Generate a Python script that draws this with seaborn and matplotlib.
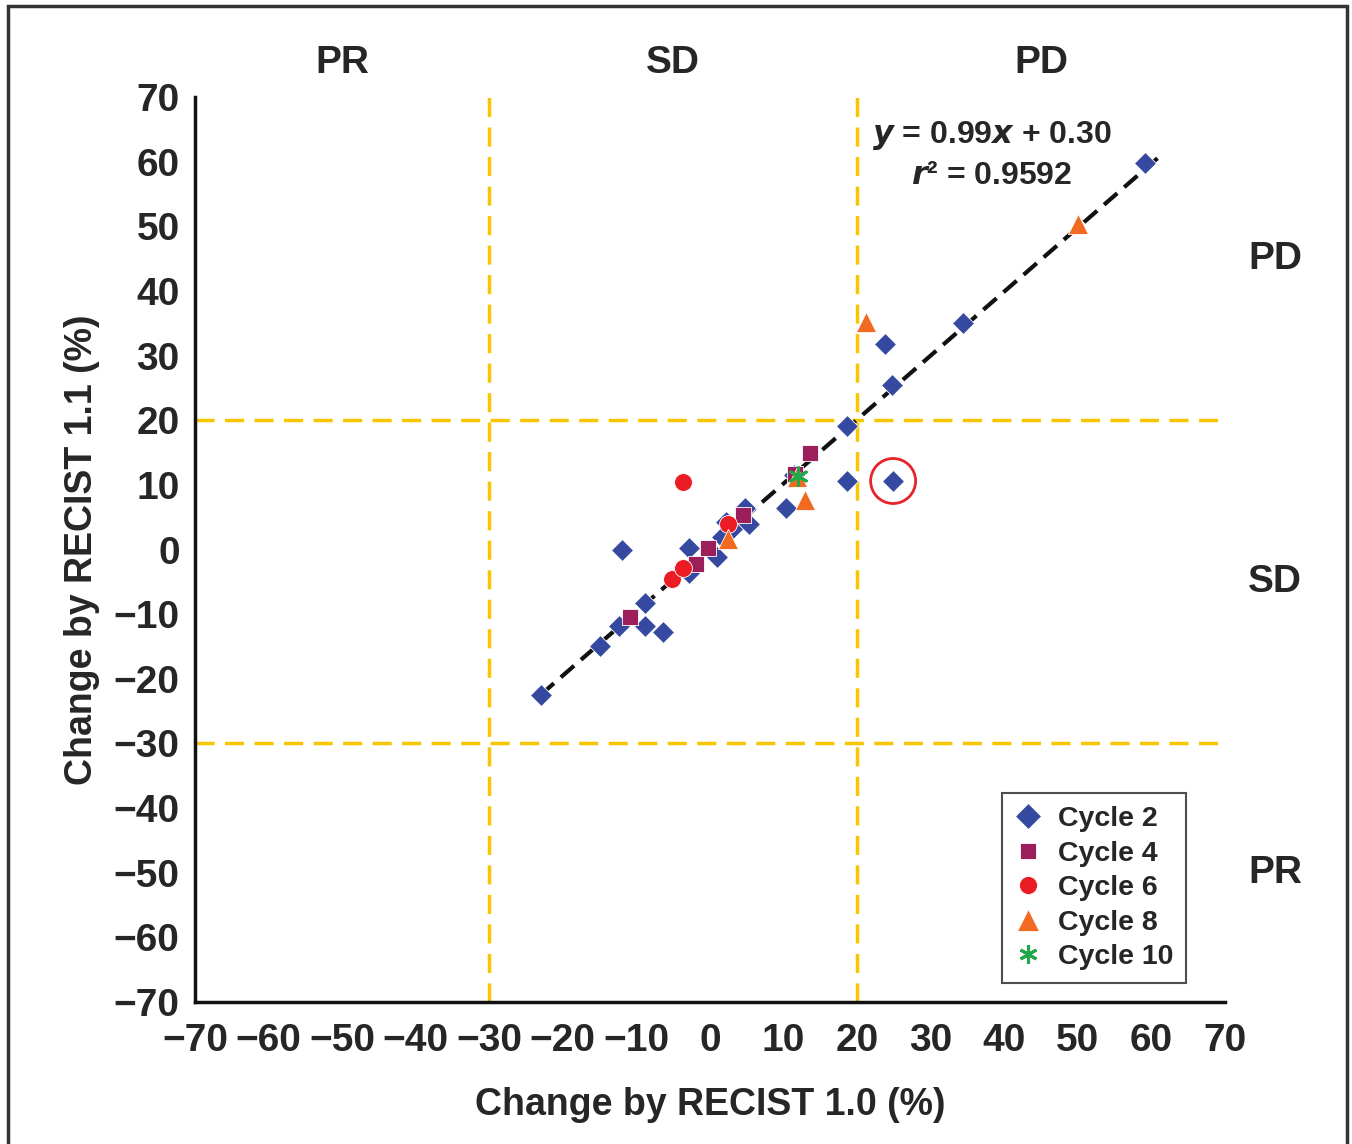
import pandas as pd
import matplotlib.pyplot as plt
import seaborn as sns
from matplotlib.patches import Rectangle
from matplotlib.lines import Line2D

# --- data ---
cycle2_x = [-22.9, -14.9, -12.3, -8.8, -8.8, -6.4, -12.0, -2.8, -2.9, 1.0, 1.7, 3.2, 2.2,
            4.7, 5.3, 10.4, 11.4, 18.6, 18.6, 24.9, 24.8, 23.8, 34.4, 59.1]
cycle2_y = [-22.5, -14.9, -11.9, -8.3, -11.8, -12.7, 0.0, -3.6, 0.2, -1.1, 2.0, 3.3, 4.2,
            6.4, 3.9, 6.5, 11.6, 19.1, 10.6, 10.6, 25.4, 31.8, 35.1, 59.8]
cycle4_x = [-10.9, -1.9, -0.2, 4.5, 11.6, 13.6]
cycle4_y = [-10.4, -2.2, 0.3, 5.3, 11.7, 14.9]
cycle6_x = [-5.1, -3.7, -3.7, 2.4]
cycle6_y = [-4.6, -2.8, 10.5, 4.0]
cycle8_x = [2.5, 11.8, 12.9, 21.2, 50.0]
cycle8_y = [1.7, 11.2, 7.7, 35.2, 50.3]
cycle10_x = [12.0]
cycle10_y = [11.3]

cycles = ["Cycle 2", "Cycle 4", "Cycle 6", "Cycle 8", "Cycle 10"]
slope, intercept = 0.99, 0.30
fit_x = [-23, 61]
cut_x = [-30, 20]
cut_y = [-30, 20]
circled = (24.9, 10.6)

rows = []
for name, xs, ys in zip(cycles,
                        [cycle2_x, cycle4_x, cycle6_x, cycle8_x, cycle10_x],
                        [cycle2_y, cycle4_y, cycle6_y, cycle8_y, cycle10_y]):
    for a, b in zip(xs, ys):
        rows.append({"Cycle": name, "x": a, "y": b})
df = pd.DataFrame(rows)

colors = {"Cycle 2": "#3549A0", "Cycle 4": "#9C1F5B", "Cycle 6": "#EC1C24",
          "Cycle 8": "#F26A21", "Cycle 10": "#21A84A"}
asterisk = (6, 2, 0)
markers = {"Cycle 2": "D", "Cycle 4": "s", "Cycle 6": "o", "Cycle 8": "^", "Cycle 10": asterisk}
sizes = {"Cycle 2": 125, "Cycle 4": 120, "Cycle 6": 165, "Cycle 8": 210, "Cycle 10": 160}

# --- style ---
sns.set_style("white")
plt.rcParams['font.family'] = ['Liberation Sans', 'DejaVu Sans']
plt.rcParams['font.weight'] = 'bold'

fig = plt.figure(figsize=(13.52, 11.44), dpi=100)
ax = fig.add_axes([0.1442, 0.1241, 0.7618, 0.7911])

gold = "#F7C600"
for v in cut_x:
    ax.axvline(v, color=gold, lw=2.5, ls=(0, (5.5, 3)), zorder=1)
for h in cut_y:
    ax.axhline(h, color=gold, lw=2.5, ls=(0, (5.5, 3)), zorder=1)

fx = pd.Series(fit_x)
ax.plot(fx, slope * fx + intercept, color="#111111", lw=3, ls=(0, (4.2, 2.2)), zorder=2)

for c in cycles:
    sub = df[df["Cycle"] == c]
    if c == "Cycle 10":
        sns.scatterplot(data=sub, x="x", y="y", ax=ax, color=colors[c], marker=markers[c],
                        s=sizes[c], edgecolor=colors[c], linewidth=2.2, zorder=3, legend=False)
    else:
        sns.scatterplot(data=sub, x="x", y="y", ax=ax, color=colors[c], marker=markers[c],
                        s=sizes[c], edgecolor="white", linewidth=0.6, zorder=3, legend=False)

ax.scatter([circled[0]], [circled[1]], s=1050, facecolors="none", edgecolors="#E8232A",
           linewidths=2, zorder=4)

ax.set_xlim(-70, 70)
ax.set_ylim(-70, 70)
ax.set_xticks(range(-70, 71, 10))
ax.set_yticks(range(-70, 71, 10))
ax.tick_params(axis="both", which="major", labelsize=28, length=8, width=2.5,
               direction="out", color="#111111")
ax.tick_params(axis="x", pad=7)
ax.tick_params(axis="y", pad=3)
for lab in ax.get_xticklabels() + ax.get_yticklabels():
    lab.set_fontweight("bold")
sns.despine(ax=ax)
for sp in ["left", "bottom"]:
    ax.spines[sp].set_linewidth(2.5)
    ax.spines[sp].set_color("#111111")

ax.set_xlabel("Change by RECIST 1.0 (%)", fontsize=27, fontweight="bold", labelpad=20)
ax.set_ylabel("Change by RECIST 1.1 (%)", fontsize=27, fontweight="bold", labelpad=10)

# region labels
for txt, xc in zip(["PR", "SD", "PD"], [-50, -5, 45]):
    ax.text(xc, 75.3, txt, fontsize=28, fontweight="bold", ha="center", va="center")
for txt, yc in zip(["PD", "SD", "PR"], [45, -5, -50]):
    ax.text(76.8, yc, txt, fontsize=28, fontweight="bold", ha="center", va="center",
            clip_on=False)

ax.text(38.3, 64.0, r"$\bfit{y}$ = 0.99$\bfit{x}$ + 0.30", fontsize=23, fontweight="bold",
        ha="center", va="center")
ax.text(38.3, 57.8, r"$\bfit{r}$² = 0.9592", fontsize=23, fontweight="bold",
        ha="center", va="center")

msizes = {"Cycle 2": 13, "Cycle 4": 11.5, "Cycle 6": 13, "Cycle 8": 16, "Cycle 10": 13}
handles = [Line2D([], [], ls="none", marker=markers[c], color=colors[c],
                  markersize=msizes[c],
                  markeredgewidth=2.2 if c == "Cycle 10" else 0.6,
                  markeredgecolor="white" if c != "Cycle 10" else colors[c])
           for c in cycles]
leg = ax.legend(handles, cycles, loc="lower right", bbox_to_anchor=(0.962, 0.021),
                frameon=True, fancybox=False, edgecolor="#222222",
                handlelength=0.9, handletextpad=0.6, labelspacing=0.3, borderpad=0.45,
                borderaxespad=0, prop={"weight": "bold", "size": 20.5})
leg.get_frame().set_linewidth(1.5)

fig.patches.append(Rectangle((0.006, -0.05), 0.99, 1.045, transform=fig.transFigure,
                             fill=False, edgecolor="#333333", lw=2.5))

fig.savefig("out.png", dpi=100)
